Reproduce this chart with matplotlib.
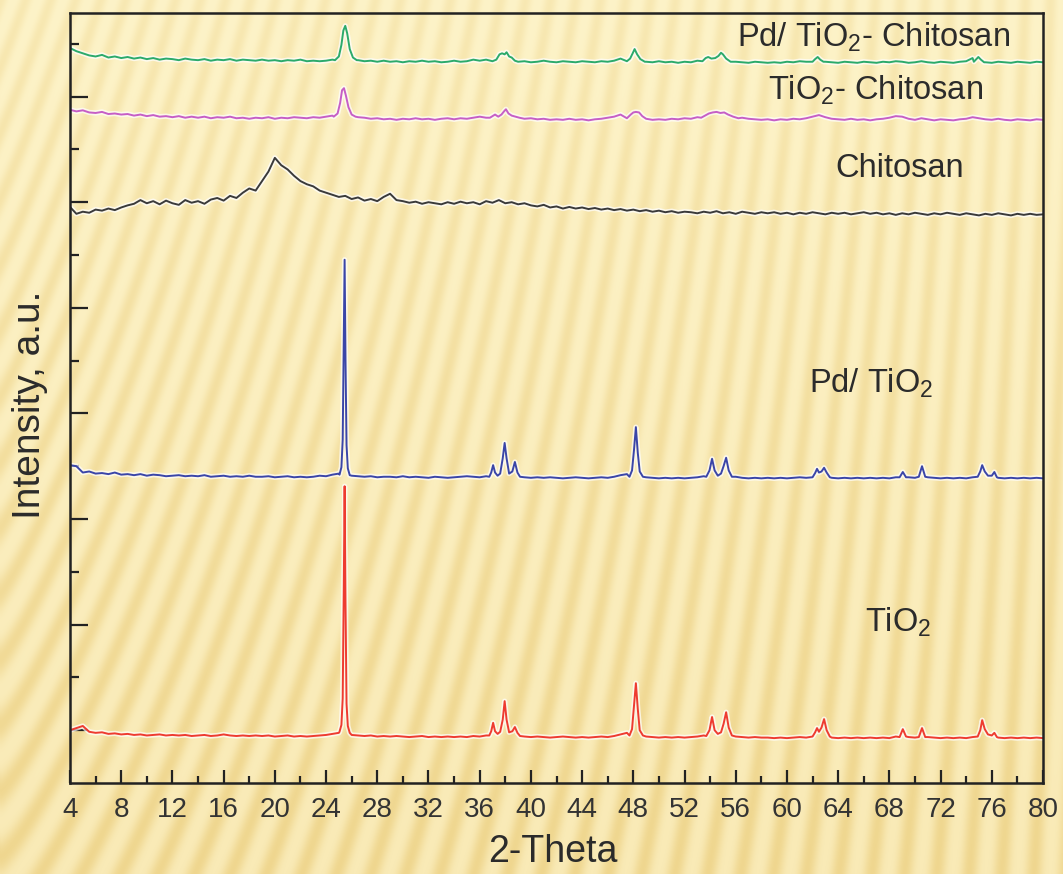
import numpy as np
import matplotlib.pyplot as plt
import matplotlib.patheffects as pe
from matplotlib.ticker import MultipleLocator, FixedLocator

plt.rcParams['font.family'] = ['Liberation Sans', 'DejaVu Sans']
plt.rcParams['mathtext.fontset'] = 'custom'
plt.rcParams['mathtext.rm'] = 'Liberation Sans'
plt.rcParams['mathtext.it'] = 'Liberation Sans:italic'

# ---- data, y in stacked a.u. ----
two_theta = np.arange(4.0, 80.01, 0.5)

tio2_base = [
    1.00, 1.04, 1.08, 0.97, 0.95, 0.96, 0.93, 0.94, 0.92, 0.93,
    0.91, 0.92, 0.90, 0.91, 0.92, 0.90, 0.91, 0.90, 0.91, 0.89,
    0.90, 0.91, 0.89, 0.90, 0.92, 0.90, 0.89, 0.90, 0.89, 0.90,
    0.89, 0.90, 0.88, 0.89, 0.90, 0.88, 0.89, 0.88, 0.89, 0.90,
    0.91, 0.93, 0.95, 0.95, 0.91, 0.90, 0.89, 0.90, 0.88, 0.89,
    0.88, 0.89, 0.88, 0.87, 0.88, 0.89, 0.87, 0.88, 0.87, 0.88,
    0.87, 0.88, 0.87, 0.89, 0.88, 0.90, 0.92, 0.95, 0.95, 0.93,
    0.89, 0.88, 0.87, 0.88, 0.87, 0.86, 0.87, 0.88, 0.87, 0.86,
    0.87, 0.86, 0.87, 0.88, 0.87, 0.89, 0.92, 0.95, 0.95, 0.90,
    0.88, 0.87, 0.86, 0.87, 0.86, 0.87, 0.86, 0.87, 0.88, 0.90,
    0.95, 0.93, 0.95, 0.92, 0.88, 0.87, 0.86, 0.87, 0.86, 0.86,
    0.85, 0.86, 0.85, 0.86, 0.87, 0.86, 0.90, 0.92, 0.88, 0.86,
    0.85, 0.86, 0.85, 0.86, 0.85, 0.86, 0.85, 0.86, 0.85, 0.88,
    0.90, 0.87, 0.86, 0.90, 0.87, 0.86, 0.85, 0.86, 0.85, 0.86,
    0.85, 0.87, 0.92, 0.92, 0.88, 0.86, 0.85, 0.86, 0.85, 0.86,
    0.85, 0.86, 0.85]
tio2_peaks = [
    ([25.05, 25.2, 25.3, 25.38, 25.45, 25.52, 25.6, 25.7, 25.85],
     [0.97, 1.10, 1.6, 3.6, 5.62, 3.4, 1.5, 1.08, 0.95]),
    ([36.75, 36.9, 37.05, 37.2, 37.4, 37.6, 37.8, 37.95, 38.1, 38.3, 38.55, 38.75, 38.95, 39.15],
     [0.90, 0.98, 1.14, 0.98, 0.93, 0.97, 1.2, 1.55, 1.2, 0.96, 0.98, 1.06, 0.95, 0.89]),
    ([47.7, 47.9, 48.05, 48.2, 48.35, 48.5, 48.75],
     [0.90, 1.02, 1.45, 1.89, 1.4, 1.0, 0.90]),
    ([53.7, 53.95, 54.15, 54.35, 54.6, 54.85, 55.05, 55.25, 55.45, 55.7],
     [0.89, 1.0, 1.25, 1.0, 0.93, 0.96, 1.12, 1.34, 1.05, 0.90]),
    ([62.0, 62.2, 62.35, 62.5, 62.7, 62.9, 63.1, 63.35],
     [0.88, 0.96, 1.04, 0.97, 1.05, 1.21, 1.0, 0.88]),
    ([68.8, 69.05, 69.3], [0.87, 1.02, 0.88]),
    ([70.3, 70.55, 70.8], [0.87, 1.04, 0.87]),
    ([74.9, 75.1, 75.25, 75.45, 75.7, 76.0, 76.2, 76.4],
     [0.88, 1.0, 1.19, 1.02, 0.92, 0.90, 0.95, 0.87]),
]

pd_tio2_base = [
    6.02, 6.00, 5.88, 5.90, 5.86, 5.87, 5.85, 5.88, 5.84, 5.85,
    5.83, 5.85, 5.82, 5.84, 5.83, 5.81, 5.82, 5.83, 5.81, 5.82,
    5.81, 5.83, 5.80, 5.81, 5.82, 5.80, 5.81, 5.80, 5.82, 5.80,
    5.80, 5.81, 5.79, 5.80, 5.81, 5.79, 5.80, 5.79, 5.80, 5.82,
    5.81, 5.84, 5.86, 5.86, 5.82, 5.81, 5.80, 5.81, 5.79, 5.80,
    5.80, 5.79, 5.81, 5.79, 5.80, 5.79, 5.78, 5.80, 5.79, 5.78,
    5.79, 5.80, 5.81, 5.80, 5.79, 5.81, 5.84, 5.85, 5.85, 5.85,
    5.81, 5.79, 5.78, 5.79, 5.78, 5.79, 5.78, 5.77, 5.78, 5.79,
    5.78, 5.77, 5.78, 5.79, 5.78, 5.80, 5.83, 5.85, 5.85, 5.83,
    5.79, 5.78, 5.77, 5.78, 5.77, 5.78, 5.77, 5.78, 5.79, 5.81,
    5.85, 5.85, 5.85, 5.85, 5.80, 5.78, 5.77, 5.78, 5.77, 5.78,
    5.77, 5.78, 5.77, 5.78, 5.79, 5.78, 5.82, 5.82, 5.80, 5.78,
    5.77, 5.78, 5.77, 5.78, 5.77, 5.78, 5.77, 5.78, 5.77, 5.79,
    5.82, 5.79, 5.78, 5.82, 5.79, 5.78, 5.77, 5.78, 5.77, 5.78,
    5.77, 5.79, 5.82, 5.82, 5.80, 5.78, 5.77, 5.78, 5.77, 5.78,
    5.77, 5.78, 5.77]
pd_tio2_peaks = [
    ([25.05, 25.2, 25.3, 25.38, 25.45, 25.52, 25.6, 25.7, 25.85],
     [5.84, 5.98, 6.5, 8.3, 9.91, 8.0, 6.4, 5.96, 5.83]),
    ([36.75, 36.9, 37.05, 37.2, 37.4, 37.6, 37.8, 37.95, 38.1, 38.3, 38.55, 38.75, 38.95, 39.15],
     [5.80, 5.88, 6.02, 5.88, 5.82, 5.86, 6.15, 6.44, 6.15, 5.86, 5.90, 6.08, 5.88, 5.80]),
    ([47.7, 47.9, 48.05, 48.2, 48.35, 48.5, 48.75],
     [5.80, 5.92, 6.3, 6.74, 6.25, 5.9, 5.80]),
    ([53.7, 53.95, 54.15, 54.35, 54.6, 54.85, 55.05, 55.25, 55.45, 55.7],
     [5.80, 5.92, 6.14, 5.92, 5.82, 5.86, 6.0, 6.16, 5.92, 5.80]),
    ([62.0, 62.2, 62.35, 62.5, 62.7, 62.9, 63.1, 63.35],
     [5.79, 5.87, 5.95, 5.88, 5.90, 5.97, 5.88, 5.79]),
    ([68.8, 69.05, 69.3], [5.79, 5.89, 5.79]),
    ([70.3, 70.55, 70.8], [5.80, 6.00, 5.80]),
    ([74.9, 75.1, 75.25, 75.45, 75.7, 76.0, 76.2, 76.4],
     [5.80, 5.90, 6.02, 5.90, 5.82, 5.82, 5.89, 5.79]),
]

chitosan_base = [
    10.91, 10.78, 10.82, 10.80, 10.86, 10.84, 10.88, 10.85, 10.90, 10.94,
    10.97, 11.04, 10.98, 11.02, 10.96, 11.03, 10.98, 10.95, 11.04, 10.99,
    11.02, 10.97, 11.05, 11.08, 11.03, 11.12, 11.08, 11.18, 11.26, 11.22,
    11.40, 11.58, 11.84, 11.70, 11.62, 11.50, 11.40, 11.34, 11.30, 11.22,
    11.18, 11.14, 11.10, 11.12, 11.06, 11.09, 11.03, 11.06, 11.02, 11.10,
    11.16, 11.04, 11.02, 10.99, 11.01, 10.97, 11.00, 10.98, 10.96, 11.00,
    10.97, 11.01, 10.98, 11.00, 10.96, 11.02, 10.99, 11.04, 10.98, 11.00,
    10.96, 10.98, 10.94, 10.92, 10.95, 10.90, 10.92, 10.88, 10.91, 10.88,
    10.90, 10.87, 10.89, 10.86, 10.88, 10.85, 10.87, 10.84, 10.86, 10.83,
    10.85, 10.82, 10.84, 10.81, 10.83, 10.80, 10.82, 10.81, 10.79, 10.82,
    10.80, 10.83, 10.79, 10.81, 10.78, 10.82, 10.80, 10.78, 10.81, 10.79,
    10.81, 10.78, 10.80, 10.77, 10.80, 10.78, 10.81, 10.79, 10.77, 10.80,
    10.78, 10.80, 10.77, 10.79, 10.81, 10.78, 10.80, 10.77, 10.79, 10.76,
    10.79, 10.77, 10.80, 10.78, 10.76, 10.79, 10.77, 10.80, 10.78, 10.76,
    10.79, 10.77, 10.75, 10.78, 10.76, 10.79, 10.77, 10.75, 10.78, 10.76,
    10.78, 10.76, 10.77]
chitosan_peaks = []

tio2_chit_base = [
    12.75, 12.72, 12.74, 12.70, 12.69, 12.71, 12.67, 12.68, 12.66, 12.67,
    12.64, 12.66, 12.63, 12.65, 12.62, 12.63, 12.61, 12.63, 12.60, 12.62,
    12.60, 12.62, 12.59, 12.61, 12.60, 12.62, 12.59, 12.60, 12.58, 12.60,
    12.59, 12.61, 12.58, 12.60, 12.59, 12.61, 12.60, 12.59, 12.61, 12.60,
    12.62, 12.64, 12.70, 12.70, 12.64, 12.61, 12.60, 12.58, 12.59, 12.57,
    12.58, 12.56, 12.58, 12.57, 12.59, 12.57, 12.58, 12.56, 12.58, 12.59,
    12.57, 12.59, 12.58, 12.60, 12.62, 12.60, 12.62, 12.64, 12.70, 12.64,
    12.60, 12.58, 12.59, 12.57, 12.58, 12.56, 12.57, 12.56, 12.58, 12.56,
    12.57, 12.55, 12.57, 12.58, 12.60, 12.62, 12.66, 12.70, 12.70, 12.68,
    12.58, 12.56, 12.57, 12.56, 12.58, 12.57, 12.59, 12.58, 12.61, 12.64,
    12.68, 12.70, 12.70, 12.68, 12.64, 12.60, 12.58, 12.57, 12.56, 12.57,
    12.55, 12.57, 12.56, 12.58, 12.57, 12.59, 12.62, 12.65, 12.61, 12.58,
    12.57, 12.56, 12.58, 12.56, 12.57, 12.55, 12.57, 12.58, 12.60, 12.63,
    12.62, 12.58, 12.56, 12.59, 12.57, 12.55, 12.57, 12.56, 12.55, 12.57,
    12.58, 12.61, 12.59, 12.57, 12.56, 12.58, 12.56, 12.55, 12.57, 12.56,
    12.55, 12.57, 12.56]
tio2_chit_peaks = [
    ([24.6, 24.9, 25.1, 25.25, 25.4, 25.55, 25.75, 26.0, 26.3],
     [12.62, 12.68, 12.88, 13.12, 13.16, 13.02, 12.80, 12.66, 12.62]),
    ([36.8, 37.0, 37.2, 37.45, 37.7, 37.9, 38.05, 38.25, 38.5, 38.8, 39.1],
     [12.60, 12.63, 12.66, 12.62, 12.66, 12.72, 12.76, 12.68, 12.64, 12.62, 12.60]),
    ([47.5, 47.8, 48.0, 48.2, 48.45, 48.7, 49.0],
     [12.59, 12.66, 12.70, 12.71, 12.70, 12.63, 12.58]),
    ([53.3, 53.6, 53.9, 54.2, 54.5, 54.8, 55.1, 55.4, 55.8, 56.2],
     [12.60, 12.64, 12.68, 12.70, 12.71, 12.69, 12.70, 12.66, 12.62, 12.59]),
]

pd_tio2_chit_base = [
    13.92, 13.86, 13.82, 13.78, 13.76, 13.79, 13.74, 13.76, 13.73, 13.75,
    13.72, 13.74, 13.71, 13.73, 13.70, 13.72, 13.71, 13.69, 13.72, 13.70,
    13.69, 13.71, 13.68, 13.70, 13.69, 13.71, 13.68, 13.70, 13.69, 13.68,
    13.70, 13.68, 13.69, 13.67, 13.69, 13.68, 13.70, 13.67, 13.68, 13.67,
    13.68, 13.70, 13.80, 13.80, 13.70, 13.69, 13.67, 13.68, 13.66, 13.68,
    13.66, 13.67, 13.65, 13.67, 13.66, 13.68, 13.66, 13.67, 13.65, 13.66,
    13.68, 13.66, 13.67, 13.70, 13.68, 13.70, 13.75, 13.72, 13.70, 13.68,
    13.66, 13.67, 13.65, 13.66, 13.68, 13.66, 13.65, 13.67, 13.66, 13.65,
    13.67, 13.66, 13.65, 13.67, 13.66, 13.68, 13.72, 13.80, 13.80, 13.72,
    13.66, 13.65, 13.67, 13.65, 13.66, 13.64, 13.66, 13.65, 13.68, 13.72,
    13.74, 13.74, 13.80, 13.72, 13.66, 13.65, 13.64, 13.66, 13.65, 13.64,
    13.65, 13.64, 13.66, 13.65, 13.67, 13.66, 13.71, 13.72, 13.66, 13.65,
    13.64, 13.66, 13.65, 13.64, 13.66, 13.65, 13.64, 13.66, 13.65, 13.67,
    13.66, 13.64, 13.65, 13.67, 13.65, 13.64, 13.66, 13.65, 13.64, 13.66,
    13.67, 13.73, 13.67, 13.65, 13.64, 13.66, 13.65, 13.64, 13.66, 13.65,
    13.64, 13.66, 13.65]
pd_tio2_chit_peaks = [
    ([24.7, 25.0, 25.2, 25.35, 25.5, 25.65, 25.85, 26.1, 26.4],
     [13.69, 13.76, 13.98, 14.25, 14.34, 14.20, 13.90, 13.74, 13.69]),
    ([37.0, 37.3, 37.55, 37.75, 37.95, 38.1, 38.3, 38.5, 38.75, 39.0],
     [13.67, 13.70, 13.80, 13.82, 13.80, 13.84, 13.76, 13.74, 13.68, 13.66]),
    ([47.5, 47.75, 47.95, 48.1, 48.3, 48.55, 48.9],
     [13.67, 13.72, 13.82, 13.90, 13.80, 13.71, 13.66]),
    ([53.4, 53.65, 53.85, 54.1, 54.4, 54.65, 54.85, 55.0, 55.25, 55.6],
     [13.67, 13.73, 13.75, 13.72, 13.73, 13.77, 13.83, 13.80, 13.72, 13.66]),
    ([62.0, 62.2, 62.4, 62.6, 62.85], [13.66, 13.71, 13.75, 13.70, 13.66]),
    ([74.6, 74.8, 74.95, 75.15, 75.4], [13.66, 13.71, 13.75, 13.70, 13.65]),
]

series = [
    ('TiO$_2$', tio2_base, tio2_peaks, '#EE3B30'),
    ('Pd/ TiO$_2$', pd_tio2_base, pd_tio2_peaks, '#3A45A8'),
    ('Chitosan', chitosan_base, chitosan_peaks, '#3A3A3A'),
    ('TiO$_2$- Chitosan', tio2_chit_base, tio2_chit_peaks, '#C65EC6'),
    ('Pd/ TiO$_2$- Chitosan', pd_tio2_chit_base, pd_tio2_chit_peaks, '#2BAA6B'),
]

# label placement (data coords): left x, baseline y
label_pos = [(66.1, 2.86), (61.7, 7.39), (63.8, 11.48), (58.5, 12.94), (56.1, 13.94)]


def build_curve(base, peaks):
    keep = np.ones(len(two_theta), bool)
    for px, py in peaks:
        keep &= ~((two_theta >= px[0]) & (two_theta <= px[-1]))
    xs = [two_theta[keep]] + [np.array(p[0]) for p in peaks]
    ys = [np.array(base)[keep]] + [np.array(p[1]) for p in peaks]
    x = np.concatenate(xs)
    y = np.concatenate(ys)
    order = np.argsort(x)
    return x[order], y[order]


W, H = 1063, 874
fig = plt.figure(figsize=(W / 100, H / 100), dpi=100)

# striped cream background (fan of soft stripes, steeper on the right)
bg = fig.add_axes([0, 0, 1, 1], zorder=-5)
yy, xx = np.mgrid[0:H, 0:W].astype(float)
slope = 0.38 - 0.34 * (xx / W) ** 0.8
phase = (xx + slope * yy) / 25.0
s = (0.5 + 0.5 * np.cos(2 * np.pi * phase)) ** 1.4
amp = 0.30 + 0.45 * (yy / H)
light = np.array([253, 243, 200]) / 255.0
light_bot = np.array([249, 234, 182]) / 255.0
dark = np.array([236, 208, 130]) / 255.0
t = (yy / H)[..., None]
base_col = light * (1 - t) + light_bot * t
img = base_col + (dark - base_col) * (s * amp)[..., None]
bg.imshow(np.clip(img, 0, 1), aspect='auto', extent=[0, 1, 0, 1], origin='upper')
bg.axis('off')

ax = fig.add_axes([70 / W, 1 - 783 / H, (1043 - 70) / W, (783 - 13) / H])
ax.set_facecolor('none')

halo = [pe.Stroke(linewidth=3.8, foreground='white', alpha=0.7), pe.Normal()]
for (name, base, peaks, color), (lx, ly) in zip(series, label_pos):
    x, y = build_curve(base, peaks)
    ax.plot(x, y, color=color, lw=1.4, path_effects=halo, solid_joinstyle='round')
    ax.text(lx, ly, name, fontsize=23.5, color='#2b2b2b', ha='left', va='baseline')

ax.set_xlim(4, 80)
ax.set_ylim(0, 770 / 52.8)

ax.xaxis.set_major_locator(MultipleLocator(4))
ax.xaxis.set_minor_locator(MultipleLocator(2))
ax.yaxis.set_major_locator(FixedLocator([1, 3, 5, 7, 9, 11, 13]))
ax.yaxis.set_minor_locator(FixedLocator([2, 4, 6, 8, 10, 12, 14]))
ax.tick_params(axis='x', which='major', direction='in', length=9.5, width=1.6,
               labelsize=20, pad=10, colors='#222222', labelcolor='#333333')
ax.tick_params(axis='x', which='minor', direction='in', length=5, width=1.6, colors='#222222')
ax.tick_params(axis='y', which='major', direction='in', length=13, width=1.6,
               labelleft=False, colors='#222222')
ax.tick_params(axis='y', which='minor', direction='in', length=6.5, width=1.6, colors='#222222')
for sp in ax.spines.values():
    sp.set_linewidth(1.8)
    sp.set_color('#222222')

fig.text(553 / W, 1 - 852 / H, '2-Theta', fontsize=27, color='#2b2b2b', ha='center', va='center')
fig.text(30 / W, 1 - 405 / H, 'Intensity, a.u.', fontsize=28, color='#2b2b2b',
         ha='center', va='center', rotation=90)

fig.savefig('out.png', dpi=100)
